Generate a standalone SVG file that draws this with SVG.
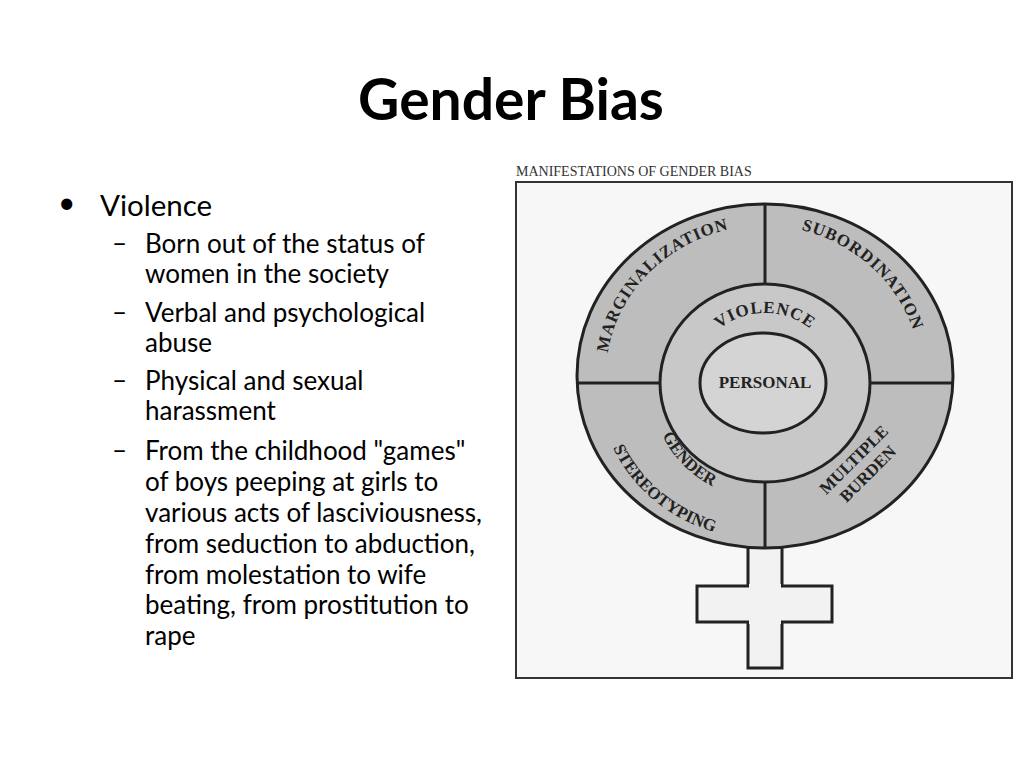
<svg xmlns="http://www.w3.org/2000/svg" width="1024" height="768" viewBox="0 0 1024 768">
<style>
.t{font-family:Lato,"Open Sans",sans-serif;fill:#000}
.s{font-size:26px}
.f{font-family:"Liberation Serif",serif;font-weight:bold;font-size:17px;fill:#222}
.ln{stroke:#222;stroke-width:3;fill:none}
</style>
<defs>
<path id="pm" d="M606,372 A162 150 0 0 1 748,226"/>
<path id="ps" d="M782,226 A162 150 0 0 1 918,350"/>
<path id="pv" d="M693,383 A72 70 0 0 1 837,383"/>
<path id="pg" d="M655,412 A114 106 0 0 0 735,495"/>
<path id="pst" d="M603,418 A165 150 0 0 0 745,538"/>
</defs>
<rect width="1024" height="768" fill="#fff"/>
<text class="t" x="511" y="120" font-size="57" font-weight="bold" text-anchor="middle">Gender Bias</text>
<g id="bullets">
<text class="t" x="58" y="213" font-size="30">•</text>
<text class="t" x="100" y="216" font-size="29.5">Violence</text>
<g class="t s">
<text x="112" y="252">–</text><text x="145" y="253">Born out of the status of</text><text x="145" y="283">women in the society</text>
<text x="112" y="321">–</text><text x="145" y="322">Verbal and psychological</text><text x="145" y="352">abuse</text>
<text x="112" y="389">–</text><text x="145" y="390">Physical and sexual</text><text x="145" y="420">harassment</text>
<text x="112" y="459">–</text><text x="145" y="460">From the childhood "games"</text>
<text x="145" y="491">of boys peeping at girls to</text>
<text x="145" y="522">various acts of lasciviousness,</text>
<text x="145" y="553">from seduction to abduction,</text>
<text x="145" y="584">from molestation to wife</text>
<text x="145" y="614">beating, from prostitution to</text>
<text x="145" y="645">rape</text>
</g>
</g>
<g id="figure">
<text x="516" y="176" font-family="Liberation Serif,serif" font-size="14" fill="#333">MANIFESTATIONS OF GENDER BIAS</text>
<rect x="516" y="182" width="496" height="496" fill="#f7f7f7" stroke="#333" stroke-width="2"/>
<rect x="748" y="540" width="34" height="128" fill="#f2f2f2" stroke="#222" stroke-width="3"/>
<rect x="697" y="586" width="135" height="36" fill="#f2f2f2" stroke="#222" stroke-width="3"/>
<rect x="749" y="584" width="32" height="40" fill="#f2f2f2"/>
<ellipse cx="765" cy="376" rx="188" ry="172" class="ln" style="fill:#bdbdbd"/>
<ellipse cx="765" cy="383" rx="105" ry="99" fill="#c8c8c8" stroke="#222" stroke-width="3"/>
<ellipse cx="763" cy="383" rx="63" ry="50" fill="#d4d4d4" stroke="#222" stroke-width="3"/>
<line class="ln" x1="765" y1="204" x2="765" y2="284"/>
<line class="ln" x1="765" y1="482" x2="765" y2="548"/>
<line class="ln" x1="577" y1="383" x2="660" y2="383"/>
<line class="ln" x1="870" y1="383" x2="954" y2="383"/>
<text class="f" letter-spacing="1"><textPath href="#pm" startOffset="50%" text-anchor="middle">MARGINALIZATION</textPath></text>
<text class="f" letter-spacing="1"><textPath href="#ps" startOffset="50%" text-anchor="middle">SUBORDINATION</textPath></text>
<text class="f" letter-spacing="1"><textPath href="#pv" startOffset="50%" text-anchor="middle">VIOLENCE</textPath></text>
<text class="f"><textPath href="#pg" startOffset="50%" text-anchor="middle">GENDER</textPath></text>
<text class="f"><textPath href="#pst" startOffset="50%" text-anchor="middle">STEREOTYPING</textPath></text>
<text class="f" x="765" y="388" font-size="19" text-anchor="middle">PERSONAL</text>
<g transform="translate(862,468) rotate(-45)">
<text class="f" x="0" y="-6" text-anchor="middle">MULTIPLE</text>
<text class="f" x="0" y="14" text-anchor="middle">BURDEN</text>
</g>
</g>
</svg>
